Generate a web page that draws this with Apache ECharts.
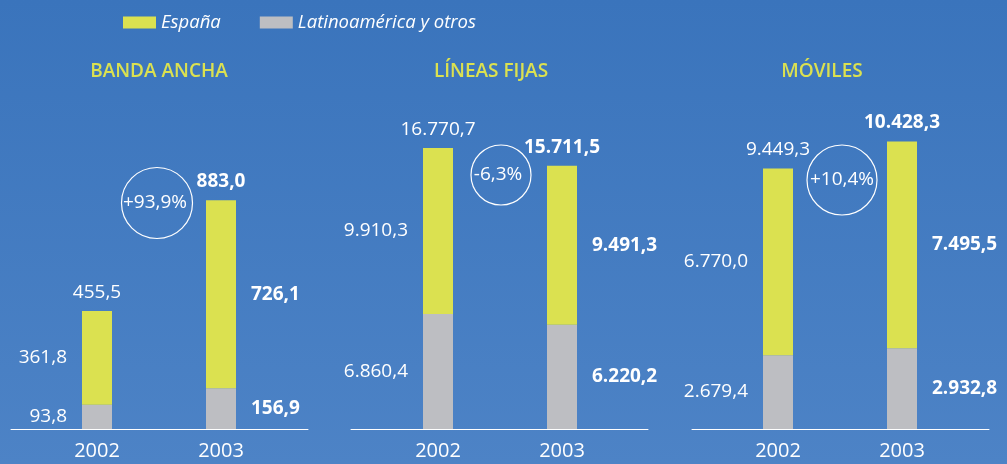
<!DOCTYPE html>
<html><head><meta charset="utf-8">
<script src="https://cdn.jsdelivr.net/npm/echarts@6/dist/echarts.min.js"></script>
<style>html,body{margin:0;padding:0;}#c{width:1007px;height:464px;}</style>
</head><body><div id="c"></div>
<script>
// ---- data ----
const years = ['2002', '2003'];
const panelTitles = ['BANDA ANCHA', 'LÍNEAS FIJAS', 'MÓVILES'];
const espana = [[361.8, 726.1], [9910.3, 9491.3], [6770.0, 7495.5]];
const latam = [[93.8, 156.9], [6860.4, 6220.2], [2679.4, 2932.8]];
const totals = [[455.5, 883.0], [16770.7, 15711.5], [9449.3, 10428.3]];
const changes = ['+93,9%', '-6,3%', '+10,4%'];
const legendNames = ['España', 'Latinoamérica y otros'];

// ---- layout ----
const FONT = '"Open Sans", "Noto Sans", sans-serif';
const barLeft = [35, 376, 716];
const barWidthPx = 248;
const lineLeft = [11, 351, 692];
const lineWidth = 297;
const yMax = [1270, 19640, 11936];
const titleX = [159, 491, 822];
const circles = [{cx: 157, cy: 203, r: 35.5, tx: 155}, {cx: 501, cy: 175, r: 30, tx: 498}, {cx: 842, cy: 180, r: 35, tx: 842}];
const YELLOW = '#dbe150', GRAY = '#bdbec2';

function fmt(v) {
  const s = v.toFixed(1).split('.');
  return s[0].replace(/\B(?=(\d{3})+(?!\d))/g, '.') + ',' + s[1];
}

const grids = [], xAxes = [], yAxes = [], series = [], titles = [], graphics = [];
panelTitles.forEach((t, i) => {
  // bar grid
  grids.push({left: barLeft[i], width: barWidthPx, top: 100, bottom: 35});
  xAxes.push({
    type: 'category', gridIndex: i, data: years, boundaryGap: true,
    axisTick: {show: false}, axisLine: {show: false},
    axisLabel: {color: '#ffffff', fontSize: 20, fontFamily: FONT, margin: 12}
  });
  yAxes.push({type: 'value', gridIndex: i, min: 0, max: yMax[i], show: false});
  titles.push({text: t, left: titleX[i], top: 62, padding: 0, textAlign: 'center',
    textStyle: {color: YELLOW, fontSize: 19, fontWeight: 600, fontFamily: FONT}});
  const segLabel = (j) => ({
    show: true, position: j === 0 ? 'left' : 'right', distance: 15,
    color: '#ffffff', fontSize: 19, fontFamily: FONT, fontWeight: j === 0 ? 'normal' : 'bold',
    formatter: p => fmt(p.value)
  });
  series.push({
    type: 'bar', name: legendNames[1], xAxisIndex: i, yAxisIndex: i, stack: 's' + i, barWidth: 30,
    itemStyle: {color: GRAY},
    data: latam[i].map((v, j) => ({value: v, label: segLabel(j)}))
  });
  series.push({
    type: 'bar', name: legendNames[0], xAxisIndex: i, yAxisIndex: i, stack: 's' + i, barWidth: 30,
    itemStyle: {color: YELLOW},
    data: espana[i].map((v, j) => ({value: v, label: segLabel(j)}))
  });
  series.push({
    type: 'scatter', name: 'total', xAxisIndex: i, yAxisIndex: i, symbolSize: 0,
    itemStyle: {color: 'rgba(0,0,0,0)', opacity: 1}, silent: true,
    data: totals[i].map((v, j) => ({value: v, label: {
      show: true, position: 'top', distance: 9, color: '#ffffff', opacity: 1, fontSize: 19, fontFamily: FONT,
      fontWeight: j === 0 ? 'normal' : 'bold', formatter: p => fmt(p.value)}}))
  });
  const c = circles[i];
  graphics.push({type: 'circle', shape: {cx: c.cx, cy: c.cy, r: c.r}, silent: true,
    style: {fill: 'none', stroke: '#ffffff', lineWidth: 1.2}});
  graphics.push({type: 'text', x: c.tx, y: c.cy, silent: true,
    style: {text: changes[i], fill: '#ffffff', font: '19px ' + FONT, textAlign: 'center', textVerticalAlign: 'middle'}});
});
// baseline grids (axis line only)
panelTitles.forEach((t, i) => {
  const g = grids.length;
  grids.push({left: lineLeft[i], width: lineWidth, top: 100, bottom: 35});
  xAxes.push({type: 'value', gridIndex: g, min: 0, max: 1, splitLine: {show: false},
    axisTick: {show: false}, axisLabel: {show: false},
    axisLine: {show: true, onZero: false, lineStyle: {color: '#ffffff', width: 1}}});
  yAxes.push({type: 'value', gridIndex: g, min: 0, max: 1, show: false});
});

const chart = echarts.init(document.getElementById('c'), null, {renderer: 'canvas'});
chart.setOption({
  animation: false,
  backgroundColor: {type: 'linear', x: 0, y: 0, x2: 0, y2: 1,
    colorStops: [{offset: 0, color: '#3a74bc'}, {offset: 1, color: '#4d83c6'}]},
  title: titles,
  legend: {
    data: legendNames.map(n => ({name: n, icon: 'rect', itemStyle: {color: n === legendNames[0] ? YELLOW : GRAY}})),
    left: 118, top: 8, itemWidth: 33, itemHeight: 12, itemGap: 39,
    textStyle: {color: '#ffffff', fontSize: 18.5, fontStyle: 'italic', fontFamily: FONT}
  },
  grid: grids, xAxis: xAxes, yAxis: yAxes, series: series, graphic: graphics
});
</script></body></html>
